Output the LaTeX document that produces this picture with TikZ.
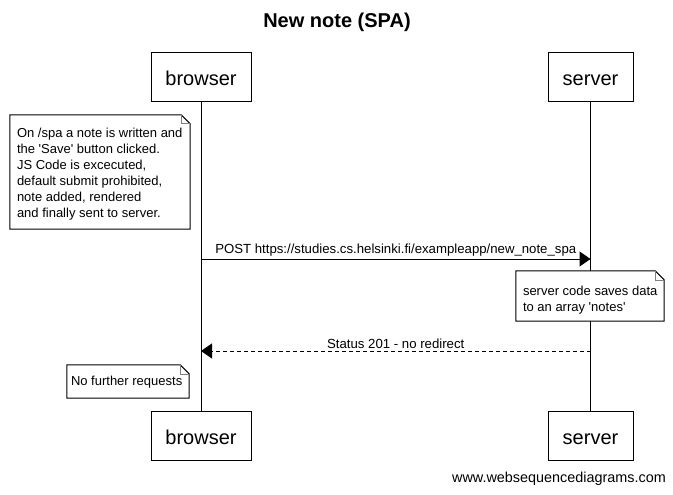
\documentclass[tikz,border=0pt]{standalone}
\usepackage{fontspec}
\setmainfont{Liberation Sans}
\usetikzlibrary{arrows.meta}
\newcommand{\q}{\textquotesingle}
\begin{document}
\begin{tikzpicture}[x=1pt,y=-1pt,
  actor/.style={draw, line width=1pt, minimum width=100pt, minimum height=49pt, inner sep=0pt, text height=18pt, text depth=1pt, font=\fontsize{20}{24}\selectfont},
  notebox/.style={draw=none, inner sep=0pt},
  notetext/.style={inner sep=0pt, anchor=north west, align=left, font=\fontsize{13}{16}\selectfont},
  msg/.style={line width=1pt, -{Triangle[length=11pt,width=15pt]}},
  lbl/.style={font=\fontsize{13.2}{16}\selectfont, inner sep=2pt}]
\useasboundingbox (0,0) rectangle (673,495);
\fill[white] (0,0) rectangle (673,495);
\node[font=\bfseries\fontsize{20}{24}\selectfont] (title) at (337,22) {New note (SPA)};
\node[actor] (bt) at (201,77.5) {browser};
\node[actor, minimum width=85pt] (st) at (590.5,77.5) {server};
\node[actor] (bb) at (201,435.5) {browser};
\node[actor, minimum width=85pt] (sb) at (590.5,435.5) {server};
\draw[line width=1pt] (bt) -- (bb);
\draw[line width=1pt] (st) -- (sb);
% note outlines
\node[notebox, minimum width=180pt, minimum height=114pt] (n1) at (100,172) {};
\node[notebox, minimum width=148pt, minimum height=50pt] (n2) at (590,296) {};
\node[notebox, minimum width=122pt, minimum height=33pt] (n3) at (128,381.5) {};
\foreach \n in {n1,n2,n3}{
  \draw[line width=1pt, fill=white] (\n.south west) -- (\n.north west) -- ([xshift=-9pt]\n.north east) -- ([yshift=-9pt]\n.north east) -- (\n.south east) -- cycle;
  \draw[line width=0.6pt, gray] ([xshift=-9pt]\n.north east) -- ([xshift=-9pt,yshift=-9pt]\n.north east) -- ([yshift=-9pt]\n.north east);
}
\node[notetext] (t1) at ([xshift=7pt,yshift=-13pt]n1.north west) {On /spa a note is written and\\the \q Save\q{} button clicked.\\JS Code is excecuted,\\default submit prohibited,\\note added, rendered\\and finally sent to server.};
\node[notetext] (t2) at ([xshift=7pt,yshift=-15.5pt]n2.north west) {server code saves data\\to an array \q notes\q};
\node[notetext] (t3) at ([xshift=4pt,yshift=-11pt]n3.north west) {No further requests};
% messages
\coordinate (b1) at (bt.center |- 0,259);
\coordinate (s1) at (st.center |- 0,259);
\coordinate (b2) at (bt.center |- 0,351);
\coordinate (s2) at (st.center |- 0,351);
\draw[msg] (b1) -- node[lbl, above] {POST https://studies.cs.helsinki.fi/exampleapp/new\_note\_spa} (s1);
\draw[msg, dash pattern=on 4pt off 3pt] (s2) -- node[lbl, above] {Status 201 - no redirect} (b2);
\node[font=\fontsize{14.4}{16}\selectfont] (foot) at (559,479) {www.websequencediagrams.com};
\end{tikzpicture}
\end{document}
